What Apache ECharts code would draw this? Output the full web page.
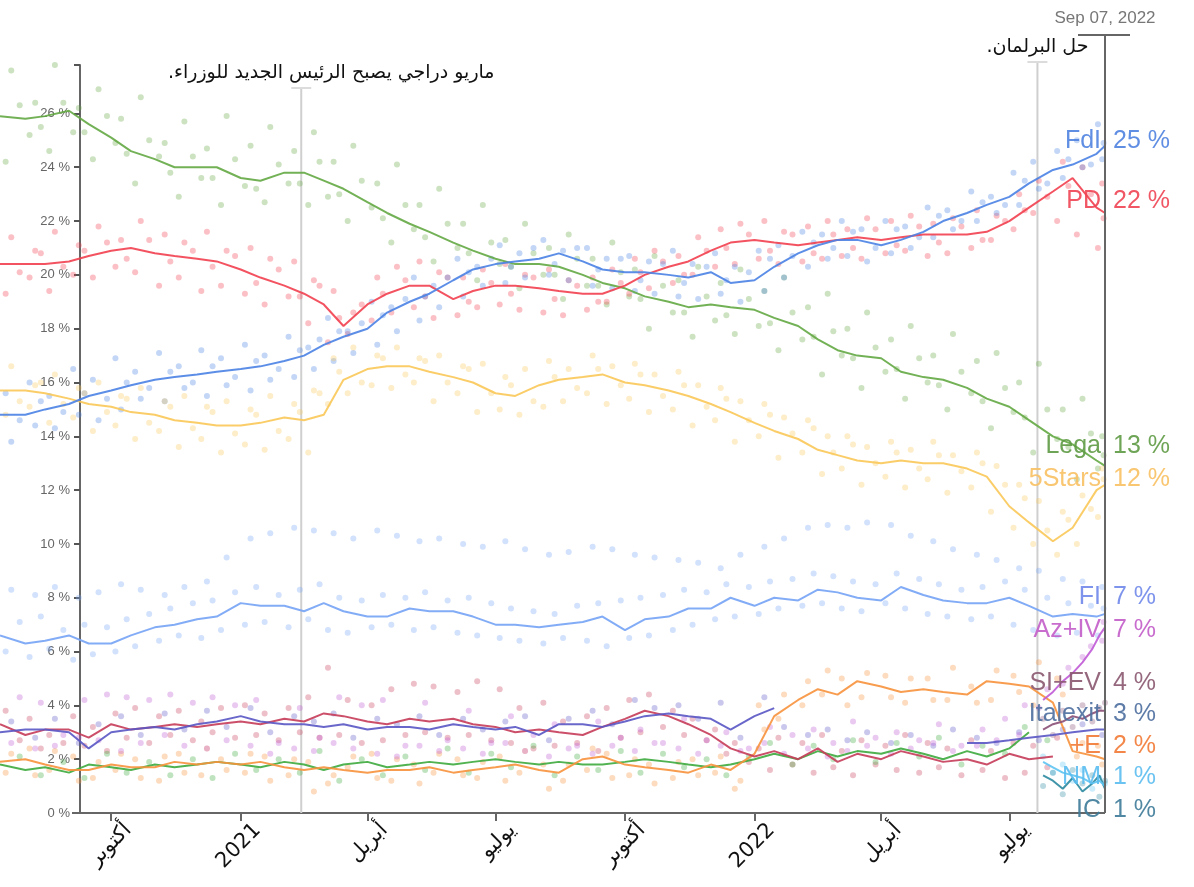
<!DOCTYPE html>
<html>
<head>
<meta charset="utf-8">
<title>Italian polls</title>
<script src="https://cdn.jsdelivr.net/npm/echarts@6/dist/echarts.min.js"></script>
<style>
  html, body { margin: 0; padding: 0; background: #fff; }
  #main { width: 1194px; height: 887px; }
</style>
</head>
<body>
<div id="main"></div>
<script>
// ---- dates ----
var xStart = '2020-07-14';
var xEnd = '2022-09-07';

// averaged lines, twice a month
var lineDates = [
  '2020-07-14','2020-08-01','2020-08-15','2020-09-01','2020-09-15','2020-10-01','2020-10-15','2020-11-01','2020-11-15','2020-12-01','2020-12-15',
  '2021-01-01','2021-01-15','2021-02-01','2021-02-15','2021-03-01','2021-03-15','2021-04-01','2021-04-15','2021-05-01','2021-05-15','2021-06-01',
  '2021-06-15','2021-07-01','2021-07-15','2021-08-01','2021-08-15','2021-09-01','2021-09-15','2021-10-01','2021-10-15','2021-11-01','2021-11-15',
  '2021-12-01','2021-12-15','2022-01-01','2022-01-15','2022-02-01','2022-02-15','2022-03-01','2022-03-15','2022-04-01','2022-04-15','2022-05-01',
  '2022-05-15','2022-06-01','2022-06-15','2022-07-01','2022-07-15','2022-08-01','2022-08-15','2022-09-01','2022-09-07'
];
// single polls
var pollDatesA = [
  '2020-07-22','2020-08-08','2020-08-22','2020-09-08','2020-09-22','2020-10-08','2020-10-22','2020-11-08','2020-11-22','2020-12-08','2020-12-22',
  '2021-01-08','2021-01-22','2021-02-08','2021-02-22','2021-03-08','2021-03-22','2021-04-08','2021-04-22','2021-05-08','2021-05-22','2021-06-08',
  '2021-06-22','2021-07-08','2021-07-22','2021-08-08','2021-08-22','2021-09-08','2021-09-22','2021-10-08','2021-10-22','2021-11-08','2021-11-22',
  '2021-12-08','2021-12-22','2022-01-08','2022-01-22','2022-02-08','2022-02-22','2022-03-08','2022-03-22','2022-04-08','2022-04-22','2022-05-08',
  '2022-05-22','2022-06-08','2022-06-22','2022-07-08','2022-07-22','2022-08-08','2022-08-22','2022-09-05'
];
var pollDatesB = [
  '2020-07-18','2020-08-04','2020-08-18','2020-09-04','2020-09-18','2020-10-04','2020-10-18','2020-11-04','2020-11-18','2020-12-04','2020-12-18',
  '2021-01-04','2021-01-18','2021-02-04','2021-02-18','2021-03-04','2021-03-18','2021-04-04','2021-04-18','2021-05-04','2021-05-18','2021-06-04',
  '2021-06-18','2021-07-04','2021-07-18','2021-08-04','2021-08-18','2021-09-04','2021-09-18','2021-10-04','2021-10-18','2021-11-04','2021-11-18',
  '2021-12-04','2021-12-18','2022-01-04','2022-01-18','2022-02-04','2022-02-18','2022-03-04','2022-03-18','2022-04-04','2022-04-18','2022-05-04',
  '2022-05-18','2022-06-04','2022-06-18','2022-07-04','2022-07-18','2022-08-04','2022-08-18','2022-09-02'
];
var pollDatesC = [
  '2020-07-28','2020-08-12','2020-08-28','2020-09-12','2020-09-28','2020-10-12','2020-10-28','2020-11-12','2020-11-28','2020-12-12','2020-12-28',
  '2021-01-12','2021-01-28','2021-02-12','2021-02-26','2021-03-12','2021-03-28','2021-04-12','2021-04-28','2021-05-12','2021-05-28','2021-06-12',
  '2021-06-28','2021-07-12','2021-07-28','2021-08-12','2021-08-28','2021-09-12','2021-09-28','2021-10-12','2021-10-28','2021-11-12','2021-11-28',
  '2021-12-12','2021-12-28','2022-01-12','2022-01-28','2022-02-12','2022-02-26','2022-03-12','2022-03-28','2022-04-12','2022-04-28','2022-05-12',
  '2022-05-28','2022-06-12','2022-06-28','2022-07-12','2022-07-28','2022-08-12','2022-08-28','2022-09-06'
];
// parties that only show up in the last weeks
var endDates = ['2022-07-25','2022-08-01','2022-08-08','2022-08-15','2022-08-22','2022-08-29','2022-09-03','2022-09-07'];

// ---- values (%) ----
var fdiLine = [14.8,14.8,15.0,15.2,15.5,15.7,15.9,16.1,16.2,16.3,16.4,16.5,16.6,16.8,17.0,17.4,17.7,18.0,18.6,19.0,19.3,19.8,20.2,20.4,20.5,20.6,20.8,20.5,20.2,20.1,20.1,20.0,19.9,20.1,19.7,19.8,20.3,20.8,21.1,21.3,21.3,21.1,21.3,21.6,22.0,22.3,22.6,22.9,23.4,23.9,24.1,24.5,24.8];
var pdLine = [20.4,20.4,20.4,20.5,20.7,20.9,21.0,20.8,20.7,20.6,20.5,20.2,19.9,19.6,19.3,18.9,18.1,18.9,19.3,19.6,19.6,19.1,19.4,19.6,19.6,19.5,19.4,19.3,19.3,19.6,20.0,20.3,20.5,20.9,21.2,21.3,21.2,21.1,21.2,21.3,21.4,21.3,21.4,21.5,21.5,21.5,21.6,22.0,22.5,23.1,23.6,22.5,22.3];
var legaLine = [25.9,25.8,25.9,26.1,25.6,25.1,24.6,24.3,24.0,24.0,24.0,23.6,23.5,23.8,23.8,23.5,23.2,22.7,22.3,21.9,21.6,21.2,20.9,20.6,20.4,20.4,20.3,20.0,19.7,19.5,19.2,19.0,18.8,18.9,18.8,18.7,18.4,18.1,17.6,17.2,17.0,16.9,16.4,16.2,16.1,15.8,15.4,15.1,14.6,14.0,13.7,13.1,12.9];
var m5sLine = [15.7,15.7,15.6,15.4,15.2,15.1,14.9,14.8,14.6,14.5,14.4,14.4,14.5,14.7,14.6,14.8,16.1,16.5,16.6,16.6,16.4,16.2,16.0,15.6,15.5,15.9,16.1,16.2,16.3,16.0,15.9,15.7,15.5,15.2,14.9,14.5,14.2,13.9,13.5,13.3,13.1,13.0,13.1,13.0,13.0,12.8,12.5,11.4,10.8,10.1,10.6,12.0,12.2];
var fiLine = [6.6,6.3,6.4,6.6,6.3,6.3,6.6,6.9,7.0,7.2,7.3,7.8,7.7,7.7,7.5,7.8,7.5,7.3,7.3,7.6,7.5,7.5,7.3,7.0,7.0,6.9,7.0,7.1,7.3,6.8,7.2,7.3,7.6,7.6,8.0,7.7,8.0,7.9,8.3,8.2,8.0,7.9,8.4,8.1,7.9,7.8,7.8,8.0,7.7,7.3,7.4,7.3,7.4];
var italexitLine = [3.0,3.1,3.1,3.0,2.4,3.0,3.1,3.2,3.1,3.3,3.4,3.6,3.4,3.3,3.3,3.2,3.3,3.1,3.2,3.2,3.1,3.3,3.2,3.1,3.2,2.9,3.3,3.3,3.2,3.4,3.6,3.7,3.6,3.5,3.1,3.6,3.9,null,null,null,null,null,null,null,null,2.6,2.6,2.7,2.8,2.9,3.0,3.1,3.1];
var siLine = [3.3,2.9,3.1,3.1,2.8,3.3,3.1,3.2,3.3,3.2,3.3,3.4,3.3,3.5,3.4,3.7,3.6,3.4,3.3,3.5,3.4,3.5,3.3,3.2,3.0,3.1,3.0,2.9,3.2,3.5,3.8,3.6,3.3,2.9,2.4,2.1,2.3,2.0,2.4,1.9,2.2,2.0,2.3,2.1,1.9,2.0,1.8,2.2,2.0,2.1,null,null,null];
var piuELine = [1.9,2.0,1.8,1.6,1.6,1.8,1.7,1.7,1.9,1.8,1.9,1.8,1.9,1.7,1.6,1.7,1.6,1.5,1.6,1.6,1.7,1.5,1.6,1.7,1.8,1.6,1.5,2.0,2.1,1.8,1.7,1.6,1.5,1.8,1.6,2.2,3.6,4.2,4.6,4.4,4.9,4.7,4.5,4.6,4.5,4.4,4.9,4.8,4.7,4.1,2.3,2.1,2.0];
var verdiLine = [1.8,1.6,1.7,1.5,1.8,1.7,1.6,1.8,1.7,1.8,1.9,1.8,1.7,1.9,1.8,1.6,1.8,1.9,1.7,1.8,1.9,1.8,1.9,2.0,1.9,1.8,1.9,1.8,1.8,1.9,2.0,1.9,1.8,1.7,1.8,2.0,2.2,2.0,2.3,2.1,2.3,2.2,2.4,2.2,2.0,2.3,2.1,2.4,3.0,null,null,null,null];
var azivLine = [4.2,4.5,4.9,5.2,5.6,6.1,6.6,6.9];
var sievLine = [3.1,3.3,3.4,3.6,3.5,3.7,3.8,3.8];
var nmLine = [1.9,1.7,1.5,1.4,1.3,1.1,1.2,1.0];
var icLine = [1.4,1.2,0.9,1.3,0.8,1.1,1.4,0.9];

var fdiPollsA = [15.6,16.0,15.5,16.5,16.1,16.9,16.4,17.1,16.6,17.2,16.9,17.4,17.0,17.7,17.3,18.4,17.9,19.0,18.8,19.9,19.6,20.6,20.3,21.1,20.8,21.3,20.9,21.0,20.6,20.7,20.5,20.9,20.4,20.8,20.3,20.9,21.1,21.6,21.5,22.0,21.7,22.0,21.8,22.5,22.4,23.1,22.9,23.8,24.2,24.6,25.0,25.6];
var fdiPollsB = [13.8,14.4,14.3,14.8,14.6,15.0,15.4,15.3,15.8,15.5,15.9,15.7,16.1,16.2,16.5,16.8,17.1,17.4,17.9,18.3,18.8,19.2,19.6,19.7,19.9,20.0,19.8,19.6,19.5,19.4,19.3,19.2,19.1,19.3,19.0,19.4,19.9,20.3,20.6,20.7,20.5,20.8,21.0,21.4,21.7,22.0,22.3,22.6,23.2,23.6,24.0,24.3];
var fdiPollsC = [14.6,15.3,14.9,15.6,15.4,16.0,15.8,16.4,16.0,16.6,16.2,16.8,16.5,17.2,17.6,17.9,18.2,18.5,19.1,19.2,19.9,20.1,20.6,20.3,21.0,20.4,21.0,20.2,20.6,19.8,20.4,19.7,20.3,19.8,20.1,20.6,20.7,21.2,21.0,21.6,21.0,21.7,21.4,22.2,22.0,22.7,22.6,23.5,23.4,24.3,24.1,24.9];
var pdPollsA = [21.4,20.9,21.6,21.1,21.8,21.3,22.0,21.5,21.2,21.6,20.9,21.0,20.6,20.5,19.8,19.4,18.6,19.9,20.3,20.5,20.1,19.9,20.2,20.4,20.0,20.2,19.8,19.9,20.2,20.6,20.9,20.7,21.4,21.7,21.9,22.0,21.6,21.8,22.0,21.7,22.1,22.0,22.2,21.9,22.1,22.4,22.2,23.0,23.5,24.2,24.0,23.4];
var pdPollsB = [19.3,19.9,19.4,20.0,19.9,20.3,20.1,19.6,19.9,19.4,19.6,19.3,18.9,19.2,18.2,17.5,17.8,18.3,18.6,18.8,18.4,18.5,18.8,18.9,18.7,18.6,18.5,18.7,19.0,19.3,19.5,19.7,20.0,20.3,20.4,20.6,20.4,20.5,20.6,20.7,20.6,20.8,20.9,20.7,20.8,21.0,21.3,21.7,22.3,22.0,21.5,21.0];
var pdPollsC = [20.1,20.8,20.3,20.9,21.2,20.6,21.3,20.5,20.9,20.3,20.7,19.7,20.2,19.2,19.6,18.4,18.9,19.3,19.8,19.2,19.9,19.0,19.7,19.3,19.9,19.1,19.6,19.0,19.7,20.1,20.5,20.0,20.9,21.0,21.5,20.9,21.5,20.8,21.5,21.0,21.7,21.1,21.8,21.2,21.8,21.3,22.0,22.4,22.9,23.3,23.0,22.1];
var legaPollsA = [27.6,26.4,27.8,26.2,26.9,25.8,26.6,24.9,25.7,24.7,25.9,24.8,25.5,24.6,25.3,24.2,24.8,23.4,24.1,22.6,23.2,21.9,22.6,21.3,21.9,21.0,21.5,20.6,21.2,20.2,20.7,19.8,20.3,19.7,20.2,19.4,19.9,18.8,19.3,18.0,18.6,17.6,18.1,17.0,17.8,16.8,17.1,16.0,16.7,15.0,15.4,14.0];
var legaPollsB = [24.2,25.2,24.6,25.3,24.3,24.9,23.4,24.4,22.9,23.6,22.6,23.3,22.7,23.4,22.6,22.9,22.0,22.5,21.2,21.7,20.5,21.0,19.8,20.4,19.5,20.0,19.1,19.6,18.9,19.2,18.0,18.6,17.7,18.3,17.8,18.1,17.2,17.6,16.3,17.0,15.8,16.4,15.4,16.0,15.0,15.6,14.3,14.9,13.4,13.9,12.4,12.8];
var legaPollsC = [26.3,25.5,26.4,25.3,25.9,24.5,25.0,23.8,24.4,23.6,24.3,23.2,24.1,23.4,24.2,23.0,23.5,22.1,22.6,21.4,21.9,20.8,21.2,20.3,20.8,20.0,20.6,19.6,20.1,19.1,19.6,18.6,19.2,18.5,19.1,18.2,18.6,17.7,17.9,16.9,17.3,16.5,16.9,15.9,16.4,15.3,15.8,14.7,15.0,13.6,14.1,13.3];
var m5sPollsA = [16.6,15.9,16.3,15.8,16.0,15.5,15.8,15.3,15.5,15.1,15.3,15.0,15.5,15.2,15.7,16.9,17.3,17.0,17.3,16.9,17.0,16.6,16.7,16.2,16.5,16.8,16.5,17.0,16.6,16.7,16.3,16.4,15.9,15.8,15.3,15.2,14.7,14.6,14.0,14.0,13.6,13.8,13.5,13.8,13.3,13.4,12.9,12.2,11.6,11.2,11.8,12.8];
var m5sPollsB = [14.8,15.1,14.5,14.7,14.2,14.4,13.9,14.2,13.6,13.9,13.4,13.7,13.5,13.9,13.4,15.2,15.6,15.9,15.8,16.0,15.3,15.6,14.9,15.0,14.8,15.1,15.3,15.6,15.2,15.4,14.9,15.0,14.4,14.6,13.8,14.0,13.2,13.4,12.6,12.8,12.2,12.5,12.1,12.4,11.9,12.1,11.2,10.6,10.0,9.6,10.0,11.0];
var m5sPollsC = [15.3,16.0,15.2,15.6,14.9,15.4,14.5,15.1,14.3,14.9,14.1,14.8,14.2,14.9,15.6,16.4,16.0,16.9,16.3,16.8,16.0,16.5,15.6,15.9,15.3,16.2,15.8,16.5,15.9,16.3,15.5,15.9,15.1,15.4,14.6,14.8,14.1,14.3,13.4,13.7,13.0,13.4,12.8,13.3,12.7,13.0,12.2,11.7,10.5,10.9,11.3,12.4];
var fiPollsA = [8.3,8.1,8.4,8.0,8.2,8.5,8.3,8.1,8.4,8.6,9.5,10.2,10.4,10.6,10.5,10.4,10.2,10.5,10.3,10.1,10.2,10.0,9.9,10.1,9.8,9.6,9.7,9.9,9.8,9.6,9.5,9.4,9.3,9.1,9.6,9.9,10.2,10.6,10.7,10.6,10.8,10.7,10.3,10.1,9.8,9.6,9.4,9.1,9.0,8.7,8.6,8.4];
var fiPollsB = [6.0,5.8,6.1,5.7,5.9,6.0,6.2,6.4,6.6,6.5,6.8,7.0,7.1,6.9,7.2,6.8,6.7,6.9,7.0,6.8,6.9,6.7,6.6,6.5,6.4,6.3,6.5,6.4,6.2,6.5,6.6,6.8,7.0,7.2,7.3,7.4,7.6,7.7,7.8,7.6,7.5,7.8,7.6,7.4,7.3,7.2,7.3,7.0,6.8,6.6,6.7,6.6];
var fiPollsC = [7.1,7.3,6.8,7.0,6.9,7.2,7.4,7.6,7.8,7.9,8.2,8.4,8.1,8.3,8.5,8.0,7.9,8.1,8.0,8.2,7.9,8.0,7.8,7.6,7.5,7.4,7.7,7.8,7.9,8.0,8.1,8.3,8.2,8.5,8.4,8.6,8.7,8.9,8.8,8.6,8.5,8.9,8.7,8.5,8.3,8.4,8.6,8.3,8.0,7.8,7.7,7.6];
var italexitPolls = [3.4,2.8,3.5,2.6,3.3,3.6,2.9,3.7,3.1,3.8,3.2,3.9,3.0,3.6,3.4,3.7,2.8,3.5,3.3,3.6,2.9,3.5,3.1,3.4,3.6,2.7,3.5,3.8,3.3,4.2,3.9,4.0,3.5,4.1,2.8,4.3,3.2,2.9,3.1,2.7,3.0,2.6,2.9,2.5,3.1,2.8,2.6,3.0,2.7,3.1,3.3,2.9];
var siPollsA = [3.8,3.5,2.9,3.6,3.2,3.7,3.9,3.6,3.8,3.4,3.9,4.0,3.7,3.9,4.3,5.4,4.2,4.0,4.6,4.8,4.7,4.5,4.9,4.6,3.9,4.1,3.4,3.6,3.9,4.2,4.4,3.8,3.5,3.1,2.6,2.4,2.8,2.6,2.9,2.3,2.7,2.5,2.9,2.6,2.4,2.7,2.3,2.6,2.5,2.8,null,null];
var siPollsB = [2.7,2.4,2.6,2.5,2.3,2.8,2.6,2.9,2.7,3.0,2.8,2.9,2.7,3.0,2.8,2.9,2.6,2.7,2.9,3.0,2.8,2.9,2.7,2.6,2.4,2.5,2.6,2.3,2.8,3.0,3.2,2.9,2.7,2.2,1.9,1.6,1.8,1.5,1.7,1.4,1.8,1.6,1.5,1.7,1.4,1.6,1.3,1.5,1.7,null,null,null];
var piuEPollsA = [2.2,1.4,2.3,1.2,1.9,2.2,1.3,2.1,1.5,2.4,1.6,2.2,1.2,2.0,0.8,1.4,2.1,1.3,2.0,1.1,2.2,1.4,1.9,1.2,2.3,0.9,1.8,2.4,1.3,2.0,1.1,1.9,1.4,2.1,1.2,3.1,4.4,4.9,5.3,4.0,5.2,4.3,5.0,4.2,5.4,4.1,5.3,4.5,5.6,4.4,2.6,1.8];
var piuEPollsB = [1.5,2.4,1.6,2.1,1.3,1.6,2.0,1.2,2.2,1.4,2.0,1.5,2.1,1.4,1.9,1.1,1.7,2.2,1.2,1.8,1.5,2.0,1.3,2.1,1.5,1.8,1.2,1.6,2.2,1.4,1.8,1.3,2.0,1.5,0.9,4.0,3.5,4.0,4.4,5.0,4.3,5.1,4.1,5.0,4.2,4.7,4.2,5.1,4.0,5.0,2.1,2.5];
var verdiPolls = [2.1,1.4,1.9,1.3,2.2,1.5,1.9,1.4,2.0,1.3,2.2,1.6,2.0,1.5,2.3,1.2,2.0,1.4,2.1,1.6,2.4,1.5,2.2,1.7,2.5,1.4,2.1,1.6,2.3,1.5,2.2,1.7,2.0,1.4,2.1,2.6,1.8,2.5,2.0,2.7,1.9,2.6,2.1,2.8,1.8,2.5,2.2,3.2,2.7,null,null,null];
var azivPollsA = [4.3,4.1,2.9,4.2,4.4,4.3,4.2,4.4,4.1,4.3,4.0,4.2,2.6,3.9,2.8,4.3,4.0,4.2,2.5,4.1,2.7,3.8,2.6,3.6,2.9,3.3,2.5,3.4,2.8,3.1,2.6,3.5,2.7,3.0,2.4,3.2,2.9,3.1,2.6,3.4,2.8,3.0,2.7,3.3,2.5,3.1,3.5,4.0,4.6,5.4,6.2,7.1];
var azivPollsB = [2.6,2.4,2.5,2.8,2.7,2.3,2.6,2.9,2.5,2.4,2.7,2.5,2.2,2.4,2.3,2.6,2.4,2.2,2.1,2.5,2.3,2.4,2.2,2.6,2.3,2.1,2.4,2.2,2.5,2.3,2.6,2.4,2.2,2.5,2.3,2.6,2.2,2.4,2.1,2.3,2.5,2.2,2.4,2.6,2.3,2.5,2.7,2.9,3.9,4.8,5.8,6.4];
var sievPolls = [3.5,2.9,3.8,3.2,4.0,3.4,3.9,4.1];
var nmPolls = [2.1,1.5,1.8,1.2,1.6,0.9,1.3,1.1];
var icPolls = [1.0,1.5,0.7,1.6,1.1,1.4,0.6,1.2];

// ---- axis ticks ----
var xTickDates = ['2020-10-01','2021-01-01','2021-04-01','2021-07-01','2021-10-01','2022-01-01','2022-04-01','2022-07-01'];
var xTickLabels = ['أكتوبر','2021','أبريل','يوليو','أكتوبر','2022','أبريل','يوليو'];
var yTicks = [0,2,4,6,8,10,12,14,16,18,20,22,24,26];
var yMax = 27.8;

// ---- annotations ----
var eventDates = ['2021-02-13','2022-07-21'];
// trailing RLM keeps the full stop on the left, as in right-to-left text
var eventTexts = ['ماريو دراجي يصبح الرئيس الجديد للوزراء.\u200F','حل البرلمان.\u200F'];
var endText = 'Sep 07, 2022';

var labelNames  = ['FdI','PD','Lega','5Stars','FI','Az+IV','SI+EV','Italexit','+E','NM','IC'];
var labelValues = ['25 %','22 %','13 %','12 %','7 %','7 %','4 %','3 %','2 %','1 %','1 %'];
// where each end label sits (in % units, after spreading them apart)
var labelAt = [24.96, 22.73, 13.63, 12.41, 8.02, 6.80, 4.83, 3.68, 2.49, 1.34, 0.11];
var labelColors = ['#4f82e0','#ee4453','#5e9a44','#f8c062','#7088ea','#c25cc9','#8a5870','#4c6e9e','#f27a35','#5bbdf0','#3d7a98'];

var C = {
  fdi: '#4a82e4', pd: '#f2404f', lega: '#64a844', m5s: '#fac858', fi: '#76a3f5',
  italexit: '#5a56c4', si: '#c73c5a', piuE: '#f7923c', verdi: '#3daa3d',
  aziv: '#c05ad6', siev: '#8a4f76', nm: '#5ec4f2', ic: '#2c8aa0'
};

// dates -> timestamps (x axis is a plain value axis in ms)
function ts(d) { return echarts.time.parse(d).getTime(); }

function line(dates, vals, color) {
  return {
    type: 'line', silent: true, animation: false, z: 3,
    symbol: 'none', connectNulls: false,
    data: dates.map(function (d, i) { return [ts(d), vals[i] == null ? '-' : vals[i]]; }),
    lineStyle: { color: color, width: 2, opacity: 0.9 }
  };
}
function dots(dates, vals, color) {
  var pts = [];
  dates.forEach(function (d, i) { if (vals[i] != null) pts.push([ts(d), vals[i]]); });
  return {
    type: 'scatter', silent: true, animation: false, z: 2,
    symbolSize: 6, data: pts,
    itemStyle: { color: color, opacity: 0.33 }
  };
}

var series = [
  dots(pollDatesA, legaPollsA, C.lega), dots(pollDatesB, legaPollsB, C.lega), dots(pollDatesC, legaPollsC, C.lega),
  dots(pollDatesA, pdPollsA, C.pd), dots(pollDatesB, pdPollsB, C.pd), dots(pollDatesC, pdPollsC, C.pd),
  dots(pollDatesB, fdiPollsA, C.fdi), dots(pollDatesA, fdiPollsB, C.fdi), dots(pollDatesC, fdiPollsC, C.fdi),
  dots(pollDatesA, m5sPollsA, C.m5s), dots(pollDatesB, m5sPollsB, C.m5s), dots(pollDatesC, m5sPollsC, C.m5s),
  dots(pollDatesA, fiPollsA, C.fi), dots(pollDatesB, fiPollsB, C.fi), dots(pollDatesC, fiPollsC, C.fi),
  dots(pollDatesA, italexitPolls, C.italexit),
  dots(pollDatesB, siPollsA, C.si), dots(pollDatesC, siPollsB, C.si),
  dots(pollDatesA, piuEPollsA, C.piuE), dots(pollDatesB, piuEPollsB, C.piuE),
  dots(pollDatesC, verdiPolls, C.verdi),
  dots(pollDatesC, azivPollsA, C.aziv), dots(pollDatesA, azivPollsB, C.aziv),
  dots(endDates, sievPolls, C.siev), dots(endDates, nmPolls, C.nm), dots(endDates, icPolls, C.ic),

  line(lineDates, verdiLine, C.verdi),
  line(lineDates, piuELine, C.piuE),
  line(lineDates, siLine, C.si),
  line(lineDates, italexitLine, C.italexit),
  line(endDates, icLine, C.ic),
  line(endDates, nmLine, C.nm),
  line(endDates, sievLine, C.siev),
  line(endDates, azivLine, C.aziv),
  line(lineDates, fiLine, C.fi),
  line(lineDates, m5sLine, C.m5s),
  line(lineDates, legaLine, C.lega),
  line(lineDates, pdLine, C.pd),
  line(lineDates, fdiLine, C.fdi)
];

var tickTs = xTickDates.map(ts);

var chart = echarts.init(document.getElementById('main'));
var option = {
  backgroundColor: '#fff',
  animation: false,
  grid: { left: 0, right: 89, top: 65, bottom: 74 },
  xAxis: {
    type: 'value', min: ts(xStart), max: ts(xEnd), scale: true,
    axisLine: { show: false },
    splitLine: { show: false },
    axisTick: { show: true, customValues: tickTs, length: 8, lineStyle: { color: '#666', width: 2 } },
    axisLabel: { show: false }
  },
  yAxis: {
    type: 'value', min: 0, max: yMax, offset: -80,
    splitLine: { show: false },
    axisLine: { show: true, lineStyle: { color: '#666', width: 2 } },
    axisTick: { show: true, length: 6, customValues: yTicks.concat([yMax]), lineStyle: { color: '#555', width: 2 } },
    axisLabel: {
      customValues: yTicks, margin: 10, color: '#666', fontSize: 13,
      fontFamily: 'Liberation Sans',
      formatter: function (v) { return v + ' %'; }
    }
  },
  series: series
};
chart.setOption(option);

// annotations placed from the axis scale
function px(d, v) { return chart.convertToPixel({ xAxisIndex: 0, yAxisIndex: 0 }, [ts(d), v]); }
var zero = px(xEnd, 0);
var endX = zero[0];
var y0 = zero[1];
var axisX = 80;
var g = [];

g.push({ type: 'line', z: 1, shape: { x1: axisX - 8, y1: y0, x2: endX, y2: y0 }, style: { stroke: '#666', lineWidth: 2 } });

// slanted month / year labels, their end sitting a little right of each tick
xTickDates.forEach(function (d, i) {
  var x = px(d, 0)[0];
  g.push({ type: 'text', z: 10, x: x + 17, y: y0 + 14, rotation: Math.PI / 4,
    style: { text: xTickLabels[i], fill: '#111', font: '21px "DejaVu Sans"', align: 'right', verticalAlign: 'middle', textAlign: 'right', textVerticalAlign: 'middle' } });
});

var eventTops = [88, 62];
var eventTextDx = [30, 0];
eventDates.forEach(function (d, i) {
  var x = px(d, 0)[0];
  g.push({ type: 'line', z: 1, shape: { x1: x, y1: eventTops[i], x2: x, y2: y0 }, style: { stroke: '#cfcfcf', lineWidth: 2 } });
  g.push({ type: 'line', z: 1, shape: { x1: x - 10, y1: eventTops[i], x2: x + 10, y2: eventTops[i] }, style: { stroke: '#dcdcdc', lineWidth: 2 } });
  g.push({ type: 'text', z: 10, x: x + eventTextDx[i], y: eventTops[i] - 15,
    style: { text: eventTexts[i], fill: '#111', font: '19px "DejaVu Sans"', align: 'center', verticalAlign: 'middle', textAlign: 'center', textVerticalAlign: 'middle' } });
});

g.push({ type: 'line', z: 20, shape: { x1: endX, y1: 35, x2: endX, y2: y0 }, style: { stroke: '#666', lineWidth: 2 } });
g.push({ type: 'line', z: 20, shape: { x1: endX - 27, y1: 35, x2: endX + 25, y2: 35 }, style: { stroke: '#666', lineWidth: 2 } });
g.push({ type: 'text', z: 20, x: endX, y: 18,
  style: { text: endText, fill: '#777', font: '17px "Liberation Sans"', align: 'center', verticalAlign: 'middle', textAlign: 'center', textVerticalAlign: 'middle' } });

labelNames.forEach(function (n, i) {
  var y = px(xEnd, labelAt[i])[1];
  g.push({ type: 'text', z: 30, x: endX - 4, y: y,
    style: { text: n, fill: labelColors[i], opacity: 0.9, font: '25px "Liberation Sans"', align: 'right', verticalAlign: 'middle', textAlign: 'right', textVerticalAlign: 'middle' } });
  g.push({ type: 'text', z: 30, x: endX + 8, y: y,
    style: { text: labelValues[i], fill: labelColors[i], opacity: 0.9, font: '25px "Liberation Sans"', align: 'left', verticalAlign: 'middle', textAlign: 'left', textVerticalAlign: 'middle' } });
});

chart.setOption({ graphic: { elements: g } });
</script>
</body>
</html>
